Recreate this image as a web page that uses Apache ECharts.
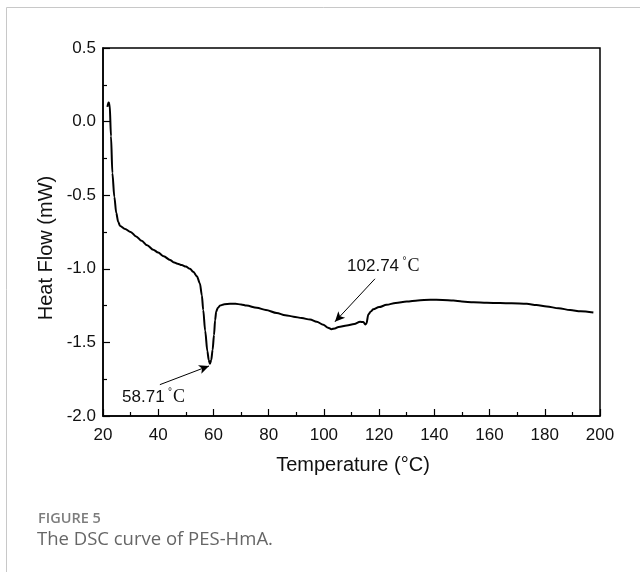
<!DOCTYPE html>
<html>
<head>
<meta charset="utf-8">
<script src="https://cdn.jsdelivr.net/npm/echarts@6/dist/echarts.min.js"></script>
<style>
  html, body { margin: 0; padding: 0; background: #fff; }
  #main { width: 640px; height: 572px; }
</style>
</head>
<body>
<div id="main"></div>
<script>
// DSC curve: temperature (°C) and heat flow (mW)
var temps = [21.6, 22.0, 22.4, 22.9, 23.4, 24.1, 24.8, 25.5, 26.2, 28, 30, 32, 34, 36, 38.2, 40, 42, 44.3, 45.5, 47, 48.5, 50, 51.5, 52.7, 54, 55.1, 55.8, 56.3, 57.0, 57.8, 58.3, 58.7, 59.2, 59.7, 60.2, 60.6, 61.0, 61.6, 62.4, 64, 66, 68, 70, 72, 75.7, 79, 82.9, 86, 89, 92, 95, 97.4, 99.8, 101.5, 102.74, 104, 105.3, 108.3, 111, 113.1, 114.3, 115.0, 115.4, 116.1, 117, 117.9, 120, 122.7, 126, 130, 134, 138.5, 143, 146.9, 150, 154.2, 159, 163.8, 168, 173.5, 177, 180.7, 185, 189.2, 193, 197.6];
var heatFlow = [0.10, 0.13, 0.12, -0.10, -0.35, -0.51, -0.62, -0.68, -0.71, -0.73, -0.75, -0.78, -0.81, -0.84, -0.87, -0.89, -0.915, -0.94, -0.955, -0.965, -0.975, -0.985, -1.00, -1.02, -1.05, -1.10, -1.18, -1.28, -1.42, -1.56, -1.62, -1.645, -1.62, -1.55, -1.45, -1.35, -1.29, -1.265, -1.25, -1.24, -1.238, -1.238, -1.242, -1.25, -1.265, -1.28, -1.30, -1.315, -1.325, -1.335, -1.345, -1.36, -1.38, -1.40, -1.41, -1.405, -1.395, -1.385, -1.375, -1.36, -1.362, -1.378, -1.372, -1.31, -1.29, -1.275, -1.26, -1.245, -1.232, -1.222, -1.215, -1.21, -1.212, -1.216, -1.222, -1.228, -1.231, -1.233, -1.234, -1.238, -1.246, -1.256, -1.268, -1.28, -1.289, -1.297];

// peak annotations: label text, label anchor, arrow start, arrow tip
var peakLabels = ['58.71', '102.74'];
var labelAt = [[26.9, -1.87], [108.4, -0.985]];
var arrowFrom = [[40.6, -1.787], [118.5, -1.068]];
var arrowTo = [[58.4, -1.66], [104.0, -1.36]];

var xTicks = { min: 20, max: 200, interval: 20 };
var yTicks = { min: -2.0, max: 0.5, interval: 0.5 };

var points = [];
for (var i = 0; i < temps.length; i++) {
    points.push([temps[i], heatFlow[i]]);
}

var arrows = [];
var labels = [];
for (var k = 0; k < peakLabels.length; k++) {
    arrows.push([{ coord: arrowFrom[k] }, { coord: arrowTo[k] }]);
    labels.push({
        coord: labelAt[k],
        value: peakLabels[k]
    });
}

var font = '"Liberation Sans", Arial, sans-serif';

var myChart = echarts.init(document.getElementById('main'));

var option = {
    backgroundColor: '#fff',
    animation: false,
    grid: {
        left: 103,
        right: 40,
        top: 48,
        bottom: 156,
        show: true,
        borderColor: '#000',
        borderWidth: 1.5
    },
    xAxis: {
        type: 'value',
        min: xTicks.min,
        max: xTicks.max,
        interval: xTicks.interval,
        axisLine: { show: true, onZero: false, lineStyle: { color: '#000', width: 1.5 } },
        axisTick: { show: true, inside: true, length: 7, lineStyle: { color: '#000', width: 1.2 } },
        minorTick: { show: true, splitNumber: 2, length: 4, lineStyle: { color: '#000', width: 1.2 } },
        splitLine: { show: false },
        axisLabel: { color: '#111', fontSize: 17, fontFamily: font, margin: 11 }
    },
    yAxis: {
        type: 'value',
        min: yTicks.min,
        max: yTicks.max,
        interval: yTicks.interval,
        axisLine: { show: true, onZero: false, lineStyle: { color: '#000', width: 1.5 } },
        axisTick: { show: true, inside: true, length: 7, lineStyle: { color: '#000', width: 1.2 } },
        minorTick: { show: true, splitNumber: 2, length: 4, lineStyle: { color: '#000', width: 1.2 } },
        splitLine: { show: false },
        axisLabel: {
            color: '#111', fontSize: 17, fontFamily: font, margin: 7,
            formatter: function (v) { return v.toFixed(1); }
        }
    },
    series: [{
        type: 'line',
        data: points,
        showSymbol: false,
        smooth: 0.3,
        smoothMonotone: 'x',
        lineStyle: { color: '#000', width: 2 },
        markLine: {
            silent: true,
            symbol: ['none', 'arrow'],
            symbolSize: [7, 10],
            label: { show: false },
            lineStyle: { color: '#000', width: 1, type: 'solid' },
            data: arrows
        },
        markPoint: {
            silent: true,
            symbol: 'circle',
            symbolSize: 0,
            label: {
                show: true,
                position: 'right',
                distance: 0,
                formatter: function (p) { return '{n|' + p.value + '} {d|°}{c|C}'; },
                rich: {
                    n: { fontFamily: font, fontSize: 17, color: '#111' },
                    d: { fontFamily: font, fontSize: 10, color: '#111', verticalAlign: 'top', padding: [0, 1, 10, 0] },
                    c: { fontFamily: '"Liberation Serif", "Times New Roman", serif', fontSize: 18, color: '#111' }
                }
            },
            data: labels
        }
    }],
    graphic: [
        // card border
        { type: 'line', shape: { x1: 6.5, y1: 7.5, x2: 640, y2: 7.5 }, style: { stroke: '#c8c8c8', lineWidth: 1 } },
        { type: 'line', shape: { x1: 6.5, y1: 7.5, x2: 6.5, y2: 572 }, style: { stroke: '#c8c8c8', lineWidth: 1 } },
        // axis titles
        {
            type: 'text', x: 46, y: 248, rotation: Math.PI / 2,
            style: { text: 'Heat Flow (mW)', font: '20px ' + font, fill: '#111', textAlign: 'center', textVerticalAlign: 'middle' }
        },
        {
            type: 'text', x: 353, y: 465,
            style: { text: 'Temperature (°C)', font: '20px ' + font, fill: '#111', textAlign: 'center', textVerticalAlign: 'middle' }
        },
        // caption
        {
            type: 'text', x: 38, y: 519,
            style: { text: 'FIGURE 5', font: '600 14.5px "Open Sans", sans-serif', fill: '#7d7d7d', textVerticalAlign: 'middle' }
        },
        {
            type: 'text', x: 37, y: 540,
            style: { text: 'The DSC curve of PES-HmA.', font: '18.5px "Open Sans", sans-serif', fill: '#666', textVerticalAlign: 'middle' }
        }
    ]
};

myChart.setOption(option);
</script>
</body>
</html>
